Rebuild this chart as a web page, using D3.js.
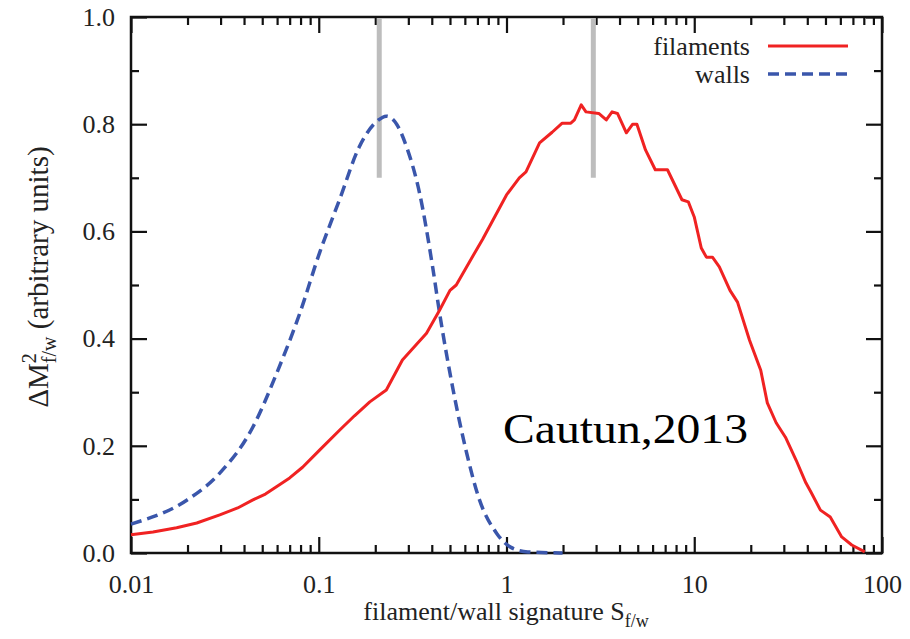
<!DOCTYPE html>
<html>
<head>
<meta charset="utf-8">
<script src="https://cdn.jsdelivr.net/npm/d3@7"></script>
<style>
  body { margin: 0; background: #fff; }
  text { font-family: "Liberation Serif", "Times New Roman", serif; fill: #222; }
</style>
</head>
<body>
<div id="chart"></div>
<script>
var width = 910,
    height = 639;

// walls (blue dashed)
var wallsS = [0.01, 0.0199, 0.0297, 0.0446, 0.0598, 0.0794, 0.101, 0.129, 0.164, 0.205, 0.229, 0.26, 0.294, 0.344, 0.404, 0.44, 0.516, 0.613, 0.718, 0.885, 1.05, 1.3, 1.99];
var wallsM = [0.054, 0.099, 0.149, 0.235, 0.336, 0.448, 0.56, 0.659, 0.757, 0.806, 0.815, 0.800, 0.757, 0.672, 0.534, 0.448, 0.31, 0.187, 0.099, 0.037, 0.011, 0.002, 0.0];

// filaments (red)
var filS = [0.01, 0.0131, 0.0175, 0.0224, 0.0297, 0.037, 0.0446, 0.052, 0.0598, 0.070, 0.082, 0.101, 0.129, 0.155, 0.187, 0.229, 0.279, 0.375, 0.44, 0.50, 0.54, 0.69, 0.745, 1.0, 1.17, 1.27, 1.5, 1.75, 1.98, 2.2, 2.3, 2.5, 2.65, 3.1, 3.4, 3.65, 3.9, 4.35, 4.7, 4.95, 5.5, 6.2, 7.2, 8.6, 9.3, 10, 10.9, 11.6, 12.5, 13.6, 15.5, 17.0, 19.7, 22.6, 24.5, 27.3, 30.6, 34.9, 39.3, 42.1, 47, 53, 61, 69, 81];
var filM = [0.034, 0.039, 0.047, 0.056, 0.071, 0.084, 0.099, 0.110, 0.124, 0.140, 0.160, 0.192, 0.229, 0.256, 0.282, 0.304, 0.36, 0.41, 0.453, 0.49, 0.50, 0.565, 0.585, 0.668, 0.70, 0.711, 0.765, 0.785, 0.802, 0.802, 0.808, 0.836, 0.823, 0.82, 0.808, 0.823, 0.82, 0.784, 0.80, 0.80, 0.752, 0.715, 0.715, 0.659, 0.655, 0.627, 0.569, 0.552, 0.552, 0.534, 0.49, 0.468, 0.397, 0.341, 0.28, 0.243, 0.216, 0.173, 0.131, 0.112, 0.08, 0.067, 0.03, 0.015, 0.002];

// grey marker bars (peak positions)
var peakS = [0.21, 2.9];
var peakRange = [0.7, 1.0];

var xMajor = [0.01, 0.1, 1, 10, 100];
var xLabels = ["0.01", "0.1", "1", "10", "100"];
var yMajor = [0, 0.2, 0.4, 0.6, 0.8, 1.0];
var yLabels = ["0.0", "0.2", "0.4", "0.6", "0.8", "1.0"];

var x = d3.scaleLog().domain([0.01, 100]).range([131, 882]);
var y = d3.scaleLinear().domain([0, 1]).range([553, 17]);

var xMinor = [];
[0.01, 0.1, 1, 10].forEach(function(d) {
  for (var k = 2; k <= 9; k++) xMinor.push(d * k);
});
var yMinor = d3.range(1, 10, 2).map(function(d) { return d / 10; });

var svg = d3.select("#chart").append("svg")
  .attr("width", width)
  .attr("height", height)
  .attr("font-family", "Liberation Serif");

// ticks
function drawAxis(axis, tx, ty) {
  var g = svg.append("g").attr("transform", "translate(" + tx + "," + ty + ")").call(axis);
  g.attr("font-family", "Liberation Serif");
  g.select(".domain").remove();
  g.selectAll("line").attr("stroke", "#111").attr("stroke-width", 2.2);
  g.selectAll("text").style("font-family", "'Liberation Serif', serif").attr("font-size", 26).attr("fill", "#222");
  return g;
}

drawAxis(d3.axisBottom(x).tickValues(xMajor).tickSize(-16).tickPadding(22)
  .tickFormat(function(d, i) { return xLabels[i]; }), 0, 553);
drawAxis(d3.axisBottom(x).tickValues(xMinor).tickSize(-8).tickFormat(""), 0, 553);
drawAxis(d3.axisTop(x).tickValues(xMajor).tickSize(-16).tickFormat(""), 0, 17);
drawAxis(d3.axisTop(x).tickValues(xMinor).tickSize(-8).tickFormat(""), 0, 17);

drawAxis(d3.axisLeft(y).tickValues(yMajor).tickSize(-16).tickPadding(16)
  .tickFormat(function(d, i) { return yLabels[i]; }), 131, 0);
drawAxis(d3.axisLeft(y).tickValues(yMinor).tickSize(-8).tickFormat(""), 131, 0);
drawAxis(d3.axisRight(y).tickValues(yMajor).tickSize(-16).tickFormat(""), 882, 0);
drawAxis(d3.axisRight(y).tickValues(yMinor).tickSize(-8).tickFormat(""), 882, 0);

// frame
svg.append("rect")
  .attr("x", x.range()[0]).attr("y", y.range()[1])
  .attr("width", x.range()[1] - x.range()[0])
  .attr("height", y.range()[0] - y.range()[1])
  .attr("fill", "none").attr("stroke", "#111").attr("stroke-width", 2.5);

// grey bars
svg.selectAll(".peak")
  .data(peakS)
  .enter()
  .append("line")
  .attr("class", "peak")
  .attr("x1", function(d) { return x(d); })
  .attr("x2", function(d) { return x(d); })
  .attr("y1", y(peakRange[0]))
  .attr("y2", y(peakRange[1]) + 1)
  .attr("stroke", "#bdbdbd")
  .attr("stroke-width", 5);

var walls = wallsS.map(function(d, i) { return [d, wallsM[i]]; });
var fil = filS.map(function(d, i) { return [d, filM[i]]; });

var lineSmooth = d3.line()
  .x(function(d) { return x(d[0]); })
  .y(function(d) { return y(d[1]); })
  .curve(d3.curveMonotoneX);
var lineRaw = d3.line()
  .x(function(d) { return x(d[0]); })
  .y(function(d) { return y(d[1]); });

svg.append("path")
  .attr("d", lineSmooth(walls))
  .attr("fill", "none")
  .attr("stroke", "#3a56ab")
  .attr("stroke-width", 3.5)
  .attr("stroke-dasharray", "11,6");

svg.append("path")
  .attr("d", lineRaw(fil))
  .attr("fill", "none")
  .attr("stroke", "#f02222")
  .attr("stroke-width", 3)
  .attr("stroke-linejoin", "round");

// legend
var legend = svg.append("g");
legend.append("text").attr("x", 750).attr("y", 55).attr("text-anchor", "end")
  .attr("font-size", 26).text("filaments");
legend.append("line").attr("x1", 768).attr("x2", 848).attr("y1", 46).attr("y2", 46)
  .attr("stroke", "#f02222").attr("stroke-width", 3);
legend.append("text").attr("x", 750).attr("y", 83).attr("text-anchor", "end")
  .attr("font-size", 26).text("walls");
legend.append("line").attr("x1", 768).attr("x2", 848).attr("y1", 74).attr("y2", 74)
  .attr("stroke", "#3a56ab").attr("stroke-width", 3.5).attr("stroke-dasharray", "11,6");

// annotation
svg.append("text")
  .attr("x", 503).attr("y", 443)
  .attr("font-size", 42)
  .attr("textLength", 245)
  .attr("lengthAdjust", "spacingAndGlyphs")
  .style("fill", "#000")
  .text("Cautun,2013");

// x title
var xt = svg.append("text")
  .attr("x", 506).attr("y", 620)
  .attr("text-anchor", "middle")
  .attr("font-size", 26);
xt.append("tspan").text("filament/wall signature S");
xt.append("tspan").attr("dy", 7).attr("font-size", 18).text("f/w");

// y title
var yt = svg.append("text")
  .attr("transform", "translate(48,277) rotate(-90)")
  .attr("text-anchor", "middle")
  .attr("font-size", 29);
yt.append("tspan").text("\u0394M");
yt.append("tspan").attr("dy", -12).attr("font-size", 20).text("2");
yt.append("tspan").attr("dy", 20).attr("dx", -10).attr("font-size", 20).text("f/w");
yt.append("tspan").attr("dy", -8).text(" (arbitrary units)");
</script>
</body>
</html>
